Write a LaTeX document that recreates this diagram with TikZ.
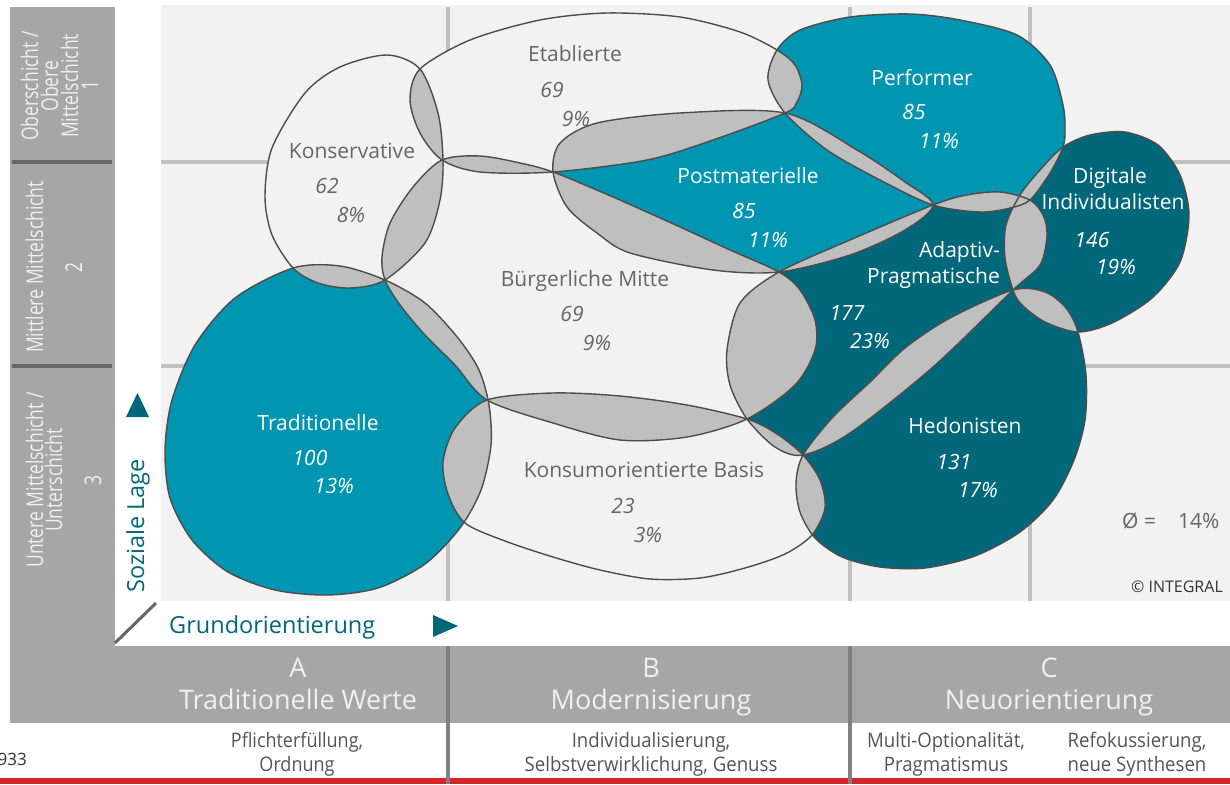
\documentclass[tikz,border=0pt]{standalone}
\usepackage{fontspec}
\usepackage{graphicx}
\setmainfont{Open Sans}
\definecolor{plotbg}{RGB}{242,242,242}
\definecolor{tealL}{RGB}{0,149,176}
\definecolor{tealD}{RGB}{0,104,122}
\definecolor{ovl}{RGB}{191,191,191}
\definecolor{edgec}{RGB}{77,77,77}
\definecolor{sidec}{RGB}{166,166,166}
\definecolor{sepc}{RGB}{102,102,102}
\definecolor{gridc}{RGB}{192,192,192}
\definecolor{txtc}{RGB}{102,102,102}
\definecolor{divc}{RGB}{128,128,128}
\definecolor{redc}{RGB}{214,39,40}
\definecolor{paletxt}{RGB}{240,240,240}
\definecolor{desctxt}{RGB}{85,85,85}
\definecolor{darktxt}{RGB}{51,51,51}
\newcommand\narrowtext[2]{\scalebox{#1}[1]{#2}}

\tikzset{
  % milieu outlines (pixel grid, y pointing down)
  kons/.style={insert path={plot[smooth cycle] coordinates{(387,55) (420,69) (438,113) (443,160) (440,200) (425,243) (385,280) (350,288) (318,283) (293,268) (272,235) (265,197) (272,148) (305,93) (340,67)}}},
  etab/.style={insert path={plot[smooth cycle] coordinates{(410,100) (420,69) (470,40) (540,20) (607,13) (680,17) (740,32) (777,50) (795,65) (802,85) (797,102) (785,113) (713,140) (647,160) (553,172) (480,172) (442,160) (420,133)}}},
  bm/.style={insert path={plot[smooth cycle] coordinates{(442,160) (480,156) (520,163) (553,172) (613,197) (680,227) (730,250) (779,272) (800,290) (815,320) (815,350) (795,385) (747,419) (687,437) (620,440) (553,423) (487,400) (455,365) (425,335) (400,305) (385,280) (382,257) (390,223) (413,187)}}},
  trad/.style={insert path={plot[smooth cycle] coordinates{(385,280) (425,303) (458,338) (479,370) (489,405) (491,445) (481,490) (460,528) (425,564) (378,588) (327,595) (275,590) (228,572) (192,540) (170,498) (165,450) (172,400) (195,345) (235,298) (293,268) (340,266)}}},
  konsum/.style={insert path={plot[smooth cycle] coordinates{(487,400) (553,393) (620,396) (687,405) (747,419) (777,434) (803,455) (820,480) (825,508) (812,535) (785,554) (745,568) (700,578) (650,579) (600,570) (553,557) (505,541) (465,523) (448,494) (443,462) (455,428)}}},
  postmat/.style={insert path={plot[smooth cycle] coordinates{(553,172) (560,143) (597,123) (680,113) (785,113) (857,150) (905,182) (933,205) (905,230) (850,255) (779,272) (713,270) (630,253) (597,233) (567,207)}}},
  perf/.style={insert path={plot[smooth cycle] coordinates{(777,50) (800,30) (850,17) (910,14) (960,20) (1017,35) (1050,65) (1063,105) (1065,130) (1063,147) (1050,173) (1030,200) (1010,208) (980,212) (933,205) (880,180) (827,150) (785,113) (768,80)}}},
  adapt/.style={insert path={plot[smooth cycle] coordinates{(779,272) (850,240) (933,205) (967,195) (1000,192) (1030,200) (1043,215) (1047,235) (1040,265) (1013,290) (933,367) (850,433) (803,455) (775,447) (747,419) (730,385) (727,350) (740,303)}}},
  hedon/.style={insert path={plot[smooth cycle] coordinates{(803,455) (833,417) (870,382) (905,348) (950,318) (1013,290) (1045,292) (1066,308) (1078,332) (1086,375) (1085,420) (1074,460) (1053,500) (1020,532) (975,556) (925,568) (880,567) (842,557) (815,538) (800,512) (796,483)}}},
  dig/.style={insert path={plot[smooth cycle] coordinates{(1063,147) (1090,135) (1125,132) (1158,145) (1180,175) (1189,215) (1180,262) (1152,298) (1112,323) (1078,332) (1045,322) (1022,305) (1013,290) (1005,258) (1006,225) (1020,195) (1040,170)}}},
  outl/.style={draw=edgec, line width=1.4pt},
  gridline/.style={draw=gridc, line width=4pt},
  lab/.style={anchor=base, inner sep=0pt, text=txtc, font=\fontsize{21}{25}\selectfont},
  labw/.style={lab, text=white},
  num/.style={lab, font=\fontsize{21}{25}\selectfont\itshape},
  numw/.style={num, text=white},
  sidetxt/.style={anchor=base, rotate=90, inner sep=0pt, text=paletxt, font=\fontsize{23}{27}\selectfont},
  bandtxt/.style={anchor=base, inner sep=0pt, text=paletxt, font=\fontsize{27}{31}\selectfont},
  desc/.style={anchor=base, inner sep=0pt, text=desctxt, font=\fontsize{20}{24}\selectfont},
  axistxt/.style={inner sep=0pt, text=tealD, font=\fontsize{23.5}{28}\selectfont},
}

\begin{document}
\begin{tikzpicture}[x=1pt,y=-1pt]
\useasboundingbox (0,0) rectangle (1230,784);
\fill[white] (0,0) rectangle (1230,784);

% plot area and grid
\fill[plotbg] (161,5) rectangle (1230,601);
\draw[gridline] (161,162) -- (1230,162);
\draw[gridline] (161,366) -- (1230,366);
\draw[gridline] (448,7) -- (448,601);
\draw[gridline] (850,7) -- (850,601);
\draw[gridline] (1030,7) -- (1030,601);

% side bar and value band
\fill[sidec] (10,7) rectangle (115,723);
\fill[sidec] (115,646) rectangle (1230,723);
\fill[sepc] (12,160) rectangle (112,164);
\fill[sepc] (12,364) rectangle (112,368);
\fill[redc] (0,778) rectangle (1230,784);
\fill[divc] (446,646) rectangle (450,784);
\fill[divc] (848,646) rectangle (852,784);

% milieu areas
\foreach \s/\c in {kons/plotbg, etab/plotbg, bm/plotbg, konsum/plotbg, trad/tealL, perf/tealL, postmat/tealL, adapt/tealD, hedon/tealD, dig/tealD}{
  \fill[fill=\c, \s];
}
% overlaps
\foreach \a/\b in {kons/etab, kons/bm, kons/trad, etab/bm, etab/postmat, etab/perf, bm/trad, bm/postmat, bm/adapt, bm/konsum, trad/konsum, konsum/adapt, konsum/hedon, postmat/perf, postmat/adapt, perf/adapt, perf/dig, adapt/dig, adapt/hedon, hedon/dig}{
  \begin{scope}
    \clip[\a];
    \fill[fill=ovl, \b];
  \end{scope}
}
% outlines
\foreach \s in {kons, etab, bm, konsum, trad, perf, postmat, adapt, hedon, dig}{
  \draw[outl, \s];
}

% milieu labels
\node[lab] (etab-t) at (575,62) {Etablierte};
\node[num] (etab-n) at (552,97) {69};
\node[num] (etab-p) at (576,126) {9\%};
\node[lab] (kons-t) at (352,158) {Konservative};
\node[num] (kons-n) at (327,193) {62};
\node[num] (kons-p) at (351,222) {8\%};
\node[labw] (perf-t) at (922,85) {Performer};
\node[numw] (perf-n) at (914,119) {85};
\node[numw] (perf-p) at (939,148) {11\%};
\node[labw] (post-t) at (748,183) {Postmaterielle};
\node[numw] (post-n) at (744,218) {85};
\node[numw] (post-p) at (768,247) {11\%};
\node[labw] (dig-t1) at (1110,183) {Digitale};
\node[labw] (dig-t2) at (1113,209) {Individualisten};
\node[numw] (dig-n) at (1092,247) {146};
\node[numw] (dig-p) at (1116,274) {19\%};
\node[labw, anchor=base east] (adapt-t1) at (1000,257) {Adaptiv-};
\node[labw, anchor=base east] (adapt-t2) at (1000,283) {Pragmatische};
\node[numw] (adapt-n) at (847,320) {177};
\node[numw] (adapt-p) at (870,348) {23\%};
\node[lab] (bm-t) at (585,286) {Bürgerliche Mitte};
\node[num] (bm-n) at (572,321) {69};
\node[num] (bm-p) at (597,350) {9\%};
\node[labw] (trad-t) at (318,430) {Traditionelle};
\node[numw] (trad-n) at (310,465) {100};
\node[numw] (trad-p) at (334,493) {13\%};
\node[lab] (kb-t) at (644,477) {Konsumorientierte Basis};
\node[num] (kb-n) at (623,513) {23};
\node[num] (kb-p) at (648,542) {3\%};
\node[labw] (hed-t) at (965,433) {Hedonisten};
\node[numw] (hed-n) at (954,469) {131};
\node[numw] (hed-p) at (978,497) {17\%};

\node[lab, anchor=base west, text=txtc] (avg) at (1122,528) {Ø =\hspace{22pt}14\%};
\node[anchor=base east, inner sep=0pt, text=darktxt, font=\fontsize{16}{19}\selectfont] (copy) at (1223,592) {© INTEGRAL};

% social class axis
\node[sidetxt] (s1a) at (38,86) {\narrowtext{0.76}{Oberschicht /}};
\node[sidetxt] (s1b) at (58,86) {\narrowtext{0.76}{Obere}};
\node[sidetxt] (s1c) at (78,86) {\narrowtext{0.76}{Mittelschicht}};
\node[sidetxt] (s1d) at (98,86) {\narrowtext{0.76}{1}};
\node[sidetxt] (s2a) at (43,267) {\narrowtext{0.76}{Mittlere Mittelschicht}};
\node[sidetxt] (s2b) at (82,267) {\narrowtext{0.76}{2}};
\node[sidetxt] (s3a) at (43,480) {\narrowtext{0.76}{Untere Mittelschicht /}};
\node[sidetxt] (s3b) at (62,480) {\narrowtext{0.76}{Unterschicht}};
\node[sidetxt] (s3c) at (101,480) {\narrowtext{0.76}{3}};

\node[axistxt, rotate=90, anchor=base] (sozlage) at (144,526) {Soziale Lage};
\fill[tealD] (126,417) -- (149,417) -- (137.5,393) -- cycle;
\node[axistxt, anchor=base west] (grundor) at (169,633) {Grundorientierung};
\fill[tealD] (433,615) -- (433,637) -- (458,626) -- cycle;
\draw[sepc, line width=3pt] (115,643) -- (156,603);

% value orientation band
\node[bandtxt] (colA) at (298,677) {A};
\node[bandtxt] (colA-t) at (298,709) {Traditionelle Werte};
\node[bandtxt] (colB) at (651,677) {B};
\node[bandtxt] (colB-t) at (651,709) {Modernisierung};
\node[bandtxt] (colC) at (1049,677) {C};
\node[bandtxt] (colC-t) at (1049,709) {Neuorientierung};

\node[desc] (dA1) at (297,747) {\narrowtext{0.9}{Pflichterfüllung,}};
\node[desc] (dA2) at (297,771) {\narrowtext{0.9}{Ordnung}};
\node[desc] (dB1) at (651,747) {\narrowtext{0.93}{Individualisierung,}};
\node[desc] (dB2) at (651,771) {\narrowtext{0.93}{Selbstverwirklichung, Genuss}};
\node[desc] (dC1) at (946,747) {\narrowtext{0.93}{Multi-Optionalität,}};
\node[desc] (dC2) at (946,771) {\narrowtext{0.93}{Pragmatismus}};
\node[desc] (dC3) at (1137,747) {\narrowtext{0.93}{Refokussierung,}};
\node[desc] (dC4) at (1137,771) {\narrowtext{0.93}{neue Synthesen}};

\node[anchor=base east, inner sep=0pt, text=darktxt, font=\fontsize{17}{20}\selectfont] (ref) at (27,765) {933};
\end{tikzpicture}
\end{document}
